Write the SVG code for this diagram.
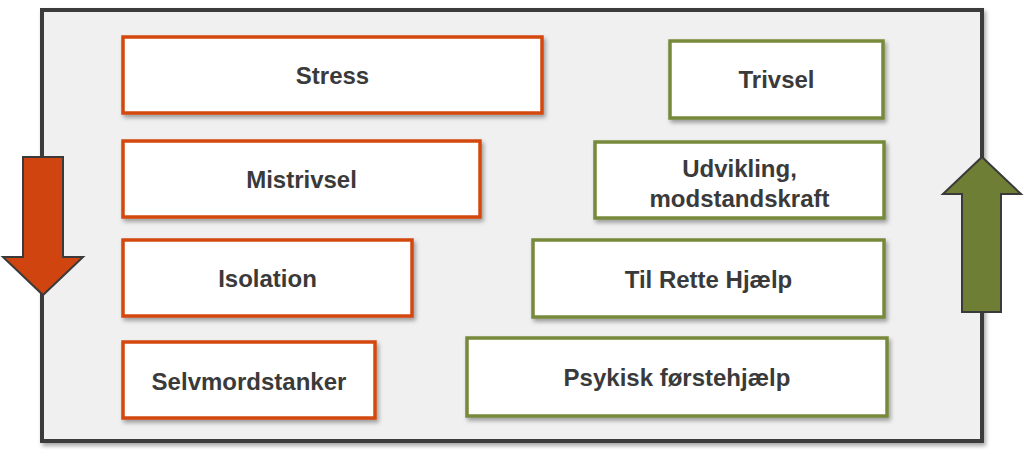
<svg xmlns="http://www.w3.org/2000/svg" width="1024" height="458" viewBox="0 0 1024 458">
<defs>
<filter id="sh" x="-10%" y="-20%" width="120%" height="140%">
<feDropShadow dx="2" dy="3" stdDeviation="2" flood-color="#000" flood-opacity="0.35"/>
</filter>
<style>
.red rect{fill:#fff;stroke:#d4470f;stroke-width:3.5;filter:url(#sh)}
.green rect{fill:#fff;stroke:#77893b;stroke-width:3.5;filter:url(#sh)}
text{font-family:"Liberation Sans",Arial,sans-serif;font-weight:bold;font-size:24px;fill:#3a3a3a;text-anchor:middle}
.arrow{stroke:#3a3a3a;stroke-width:2;stroke-linejoin:miter}
</style>
</defs>
<rect width="1024" height="458" fill="#fff"/>
<g id="frame">
<rect x="42" y="10" width="940" height="431" fill="#f0f0f0" stroke="#3b3b3b" stroke-width="4" filter="url(#sh)"/>
</g>
<g id="stress" class="red"><rect x="123" y="37" width="419" height="76"/><text x="332.5" y="84">Stress</text></g>
<g id="mistrivsel" class="red"><rect x="123" y="141" width="357" height="76"/><text x="301.5" y="188">Mistrivsel</text></g>
<g id="isolation" class="red"><rect x="123" y="240" width="289" height="76"/><text x="267.5" y="287">Isolation</text></g>
<g id="selvmordstanker" class="red"><rect x="123" y="342" width="252" height="76"/><text x="249" y="390">Selvmordstanker</text></g>
<g id="trivsel" class="green"><rect x="670" y="41" width="213" height="77"/><text x="776.5" y="88">Trivsel</text></g>
<g id="udvikling" class="green"><rect x="595" y="142" width="289" height="76"/><text x="739.5" y="177">Udvikling,</text><text x="739.5" y="207">modstandskraft</text></g>
<g id="tilrette" class="green"><rect x="533" y="240" width="351" height="77"/><text x="708.5" y="288">Til Rette Hjælp</text></g>
<g id="psykisk" class="green"><rect x="467" y="338" width="420" height="78"/><text x="677" y="386">Psykisk førstehjælp</text></g>
<g id="connectors">
<polygon class="arrow" fill="#d0450f" points="23,157 63,157 63,257 83,257 43,295 3,257 23,257"/>
<polygon class="arrow" fill="#6e7e34" points="982,157 1021,194 1001,194 1001,312 962,312 962,194 943,194"/>
</g>
</svg>
